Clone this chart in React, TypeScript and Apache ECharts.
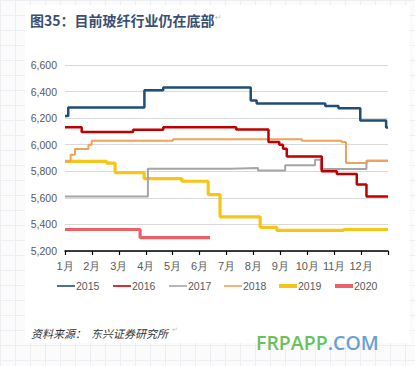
import React, { useEffect, useRef } from "react";
import * as echarts from "echarts";

const monthLabels = ["1月", "2月", "3月", "4月", "5月", "6月", "7月", "8月", "9月", "10月", "11月", "12月"];
const yTicks = [5200, 5400, 5600, 5800, 6000, 6200, 6400, 6600];
const seriesNames = ["2015", "2016", "2017", "2018", "2019", "2020"];

// [month position (0 = start of Jan), price]
const s2015 = [[0, 6217], [0.12, 6280], [2.95, 6410], [3.65, 6430], [6.9, 6332], [7.12, 6310], [9.67, 6292], [10.16, 6275], [10.97, 6182], [11.93, 6130], [12, 6130]];
const s2016 = [[0, 6132], [0.62, 6095], [2.53, 6112], [3.65, 6132], [6.36, 6115], [7.56, 6020], [7.96, 6000], [8.1, 5970], [8.24, 5912], [9.54, 5800], [10.1, 5780], [10.84, 5700], [11.2, 5610], [12, 5610]];
const s2017 = [[0, 5610], [3.08, 5820], [6.13, 5825], [7.17, 5805], [8.18, 5845], [9.29, 5887], [9.5, 5818], [11.2, 5880], [12, 5880]];
const s2018 = [[0, 5875], [0.21, 5925], [0.37, 5968], [0.87, 6000], [0.99, 6030], [4.01, 6042], [8.8, 6030], [10.28, 6020], [10.44, 5862], [11.23, 5880], [12, 5880]];
const s2019 = [[0, 5875], [1.55, 5862], [1.86, 5790], [2.94, 5745], [4.34, 5725], [5.32, 5625], [5.76, 5457], [7.25, 5378], [7.87, 5355], [10.35, 5362], [12, 5362]];
const s2020 = [[0, 5362], [2.79, 5300], [5.39, 5300]];

const seriesData = [s2015, s2016, s2017, s2018, s2019, s2020];
const colors = ["#1F4E79", "#C00000", "#A5A5A5", "#F2A05A", "#F5C518", "#EE6068"];
const widths = [2.5, 2.5, 2, 2, 3.2, 3.2];

const narrow = "'Liberation Sans Narrow', 'Arial Narrow', 'Liberation Sans', sans-serif";

export default function App() {
  const ref = useRef<HTMLDivElement>(null);
  useEffect(() => {
    if (!ref.current) return;
    const chart = echarts.init(ref.current, undefined, { renderer: "svg" });
    const legendX = [57, 113, 169, 224, 279, 335];
    const legendY = 286;
    const legendGraphics: any[] = [];
    seriesNames.forEach((n, i) => {
      const h = i >= 4 ? 4 : 1.6;
      legendGraphics.push({
        type: "rect",
        shape: { x: legendX[i], y: legendY - h / 2, width: 18, height: h },
        style: { fill: colors[i] },
      });
      legendGraphics.push({
        type: "text",
        x: legendX[i] + 19,
        y: legendY,
        style: { text: n, fill: "#595959", font: `10.5px ${narrow}`, verticalAlign: "middle" },
      });
    });
    chart.setOption({
      animation: false,
      grid: { left: 65, right: 27, top: 65, bottom: 115 },
      xAxis: {
        type: "value",
        min: 0,
        max: 12,
        interval: 1,
        axisLine: { show: true, lineStyle: { color: "#000", width: 1.5 } },
        axisTick: { show: true, length: 4, lineStyle: { color: "#000", width: 1.2 } },
        axisLabel: {
          color: "#595959",
          fontSize: 11,
          fontFamily: narrow,
          margin: 9,
          showMaxLabel: true,
          formatter: (v: number) => (v < 12 ? monthLabels[Math.round(v)] : ""),
        },
        splitLine: { show: false },
      },
      yAxis: {
        type: "value",
        min: yTicks[0],
        max: yTicks[yTicks.length - 1],
        interval: 200,
        axisLine: { show: false },
        axisTick: { show: false },
        axisLabel: {
          color: "#595959",
          fontSize: 10.5,
          fontFamily: narrow,
          margin: 8,
          formatter: (v: number) => v.toLocaleString("en-US"),
        },
        splitLine: { lineStyle: { color: "#D9D9D9", width: 1 } },
      },
      series: seriesNames.map((n, i) => ({
        name: n,
        type: "line",
        step: "end",
        showSymbol: false,
        symbol: "none",
        data: seriesData[i],
        lineStyle: { color: colors[i], width: widths[i] },
        itemStyle: { color: colors[i] },
        z: [6, 5, 3, 4, 2, 2][i],
      })),
      graphic: [
        {
          type: "rect",
          z: -10,
          silent: true,
          shape: { x: 25, y: 5, width: 385, height: 338 },
          style: { fill: "#ffffff" },
        },
        {
          type: "text",
          x: 30,
          y: 20,
          style: {
            text: "图35：目前玻纤行业仍在底部",
            fill: "#3A4F72",
            font: "bold 14px 'Noto Sans CJK SC', sans-serif",
            verticalAlign: "middle",
          },
        },
        {
          type: "text",
          x: 215,
          y: 17,
          style: { text: "↵", fill: "#BFBFBF", font: "8px 'DejaVu Sans', sans-serif", verticalAlign: "middle" },
        },
        ...legendGraphics,
        {
          type: "text",
          x: 31,
          y: 333,
          style: {
            text: "资料来源：  东兴证券研究所",
            fill: "#333333",
            font: "italic 11px 'Noto Sans CJK SC', sans-serif",
            verticalAlign: "middle",
          },
        },
        {
          type: "text",
          x: 172,
          y: 330,
          style: { text: "↵", fill: "#BFBFBF", font: "7px 'DejaVu Sans', sans-serif", verticalAlign: "middle" },
        },
        {
          type: "text",
          x: 256,
          y: 342,
          style: {
            text: "{g|FRPAPP}{b|.COM}",
            verticalAlign: "middle",
            rich: {
              g: { fill: "#6CBF5E", font: "600 19.5px 'Open Sans', sans-serif" },
              b: { fill: "#6A9FD6", font: "600 19.5px 'Open Sans', sans-serif" },
            },
          },
        },
      ],
    });
    return () => chart.dispose();
  }, []);
  const gridBg =
    "linear-gradient(#eceef2 1px, transparent 1px), linear-gradient(90deg, #eceef2 1px, transparent 1px)";
  return (
    <div
      style={{
        position: "absolute",
        left: 0,
        top: 0,
        width: 415,
        height: 366,
        backgroundColor: "#fbfbfc",
        backgroundImage: gridBg,
        backgroundSize: "15px 15px",
      }}
    >
      <div ref={ref} style={{ width: 415, height: 366 }} />
    </div>
  );
}
